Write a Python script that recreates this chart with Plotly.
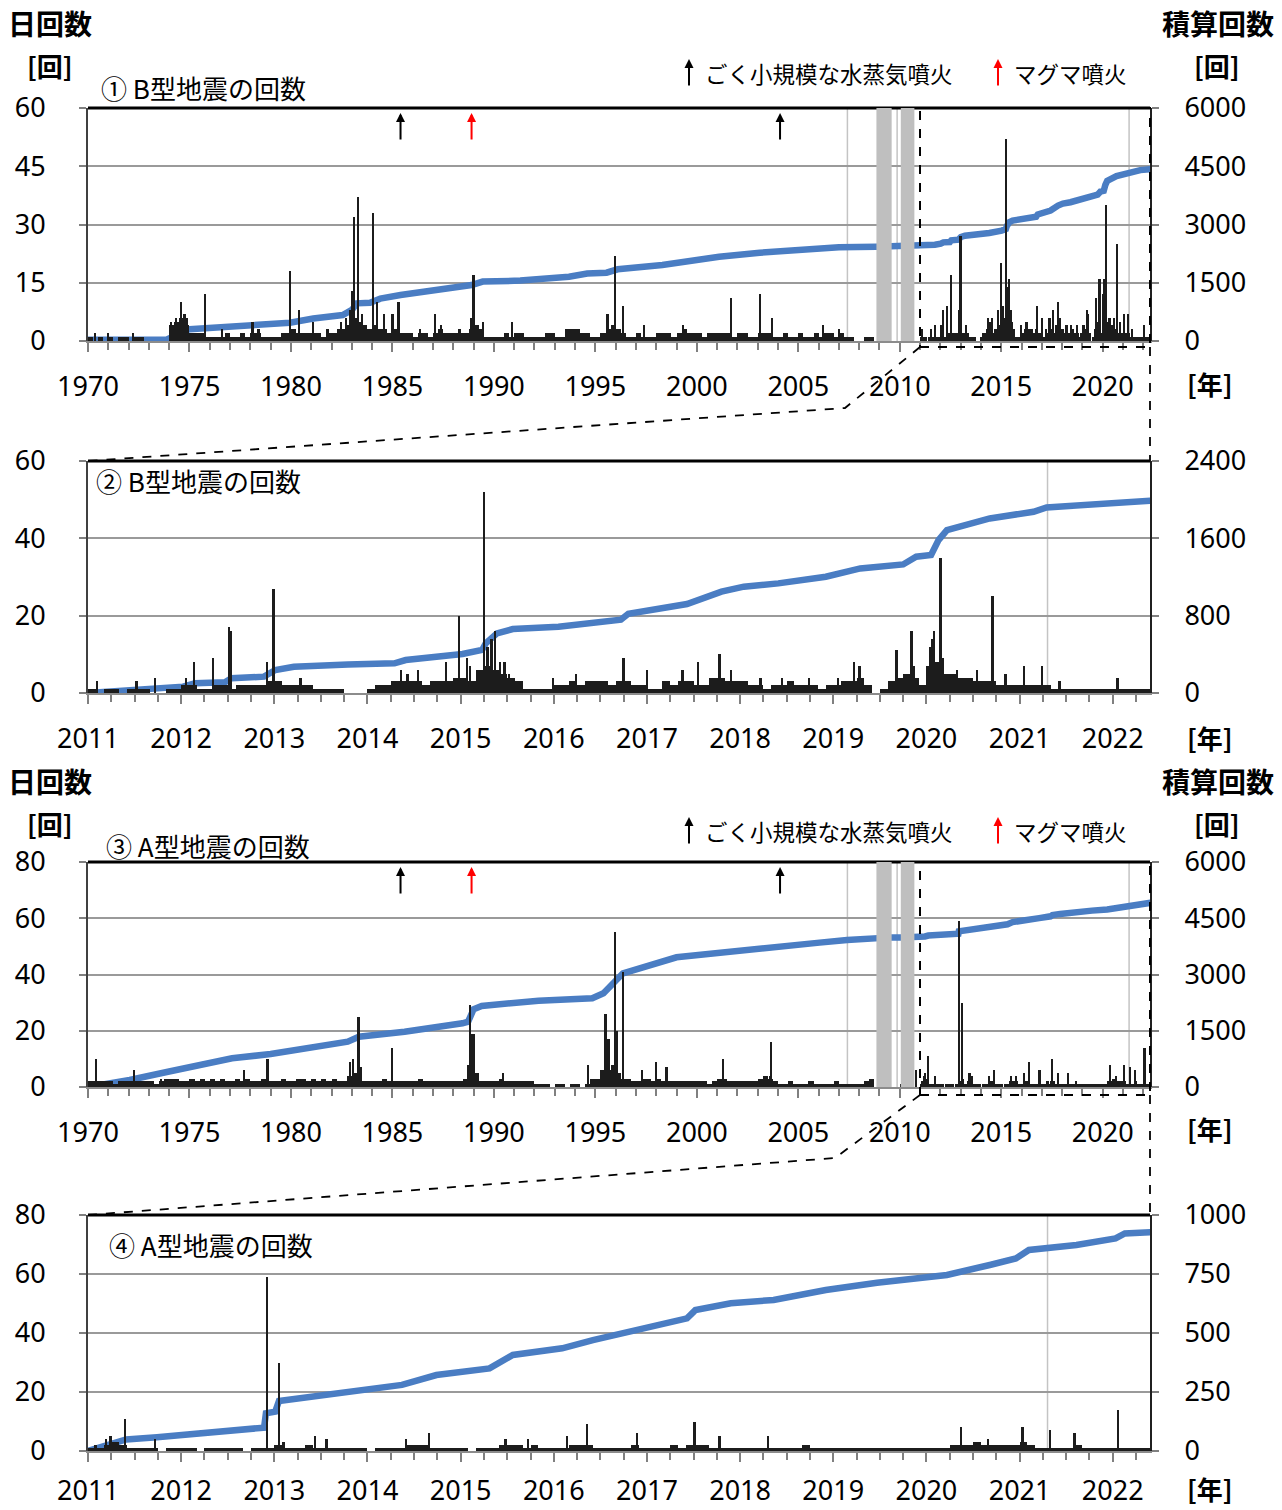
import plotly.graph_objects as go

W, H = 1282, 1510

# ======================= DATA =======================
# ---- B型地震 ----
# background daily level, quarterly, 1970Q1 .. 2010Q4
B_level_quarterly = [
    1, 0, 1, 0,   # 1970
    1, 0, 1, 1,   # 1971
    0, 1, 1, 0,   # 1972
    0, 0, 0, 0,   # 1973
    4, 5, 6, 4,   # 1974
    2, 2, 2, 1,   # 1975
    1, 1, 1, 2,   # 1976
    1, 1, 2, 1,   # 1977
    2, 2, 1, 1,   # 1978
    1, 1, 2, 2,   # 1979
    3, 2, 2, 2,   # 1980
    2, 2, 1, 2,   # 1981
    2, 3, 3, 4,   # 1982
    6, 5, 4, 3,   # 1983
    4, 3, 3, 2,   # 1984
    3, 2, 2, 2,   # 1985
    1, 2, 2, 1,   # 1986
    2, 3, 2, 2,   # 1987
    2, 2, 2, 3,   # 1988
    4, 3, 1, 1,   # 1989
    1, 1, 2, 1,   # 1990
    2, 2, 1, 1,   # 1991
    1, 1, 2, 2,   # 1992
    1, 1, 3, 3,   # 1993
    3, 2, 2, 1,   # 1994
    1, 2, 3, 4,   # 1995
    3, 2, 1, 1,   # 1996
    2, 1, 1, 1,   # 1997
    2, 2, 2, 1,   # 1998
    2, 3, 2, 2,   # 1999
    2, 1, 2, 2,   # 2000
    2, 2, 2, 1,   # 2001
    2, 2, 1, 1,   # 2002
    2, 2, 2, 1,   # 2003
    1, 2, 1, 1,   # 2004
    2, 1, 1, 2,   # 2005
    1, 2, 2, 1,   # 2006
    2, 1, 1, 0,   # 2007
    0, 1, 1, 0,   # 2008
    0, 0, 0, 0,   # 2009
    0, 1, 0, 0,   # 2010
]
# background daily level, monthly, 2011-01 .. 2022-05
B_level_monthly = [
    1, 0, 1, 1, 0, 1, 1, 1, 0, 0, 1, 1,   # 2011
    2, 2, 1, 1, 2, 2, 1, 2, 2, 2, 2, 3,   # 2012
    3, 2, 2, 2, 2, 1, 1, 1, 1, 0, 0, 0,   # 2013
    1, 2, 2, 3, 3, 3, 3, 2, 3, 3, 3, 4,   # 2014
    4, 3, 6, 7, 6, 5, 4, 3, 1, 1, 1, 1,   # 2015
    2, 2, 3, 2, 3, 3, 3, 2, 3, 3, 2, 2,   # 2016
    1, 1, 3, 2, 3, 3, 2, 2, 4, 4, 3, 3,   # 2017
    3, 2, 2, 1, 2, 2, 3, 2, 2, 2, 1, 2,   # 2018
    2, 3, 3, 4, 2, 0, 1, 3, 4, 5, 4, 2,   # 2019
    7, 8, 5, 5, 4, 4, 3, 3, 3, 2, 2, 2,   # 2020
    2, 2, 2, 2, 1, 1, 1, 1, 1, 1, 1, 1,   # 2021
    1, 1, 1, 1, 1,                        # 2022
]
# individual high days
B_peak_year = [1970.35, 1971.0, 1972.2, 1974.1, 1974.35, 1974.6, 1974.75, 1974.85, 1975.75,
               1976.6, 1978.1, 1978.4, 1979.95, 1980.4, 1981.1, 1981.8, 1982.45, 1982.7,
               1982.9, 1983.0, 1983.1, 1983.3, 1983.5, 1984.05, 1984.25, 1984.6, 1985.0,
               1985.3, 1986.35, 1987.1, 1987.4, 1988.3, 1988.9, 1989.0, 1989.45, 1990.9,
               1993.9, 1995.6, 1995.95, 1996.35, 1997.4, 1999.3, 2001.7, 2003.1, 2003.7,
               2006.2, 2007.0,
               2011.10, 2011.52, 2011.72, 2012.05, 2012.14, 2012.34, 2012.51, 2012.53,
               2012.92, 2012.99, 2013.28, 2014.36, 2014.43, 2014.54, 2014.84, 2014.98,
               2015.07, 2015.10, 2015.25, 2015.29, 2015.33, 2015.37, 2015.42, 2015.47,
               2015.52, 2015.99, 2016.24, 2016.75, 2017.0, 2017.38, 2017.55, 2017.78,
               2017.9, 2018.22, 2018.45, 2018.74, 2019.05, 2019.22, 2019.28, 2019.68,
               2019.84, 2019.87, 2020.04, 2020.06, 2020.08, 2020.15, 2020.18, 2020.33,
               2020.54, 2020.71, 2020.85, 2021.05, 2021.24, 2021.43, 2022.05]
B_peak_count = [2, 2, 2, 5, 6, 10, 7, 6, 12,
                3, 5, 3, 18, 8, 5, 3, 5, 6,
                8, 13, 32, 37, 7, 33, 10, 7, 7,
                10, 3, 7, 4, 3, 6, 17, 5, 5,
                3, 7, 22, 9, 4, 4, 11, 12, 6,
                4, 3,
                3, 3, 4, 4, 8, 9, 17, 16,
                8, 27, 4, 6, 5, 6, 8, 20,
                9, 7, 52, 12, 14, 16, 8, 8,
                5, 4, 5, 9, 6, 6, 8, 10,
                6, 4, 4, 4, 4, 8, 7, 11,
                16, 7, 12, 14, 16, 35, 9, 6,
                6, 25, 5, 7, 7, 3, 4]
# cumulative count 1970-2010 (absolute)
B_cum_pre_year = [1970.0, 1973.9, 1974.2, 1974.5, 1975.0, 1977.0, 1979.95, 1981.1, 1982.55,
                  1983.0, 1983.25, 1983.9, 1984.4, 1985.4, 1987.0, 1988.9, 1989.45, 1991.3,
                  1993.7, 1994.6, 1995.55, 1995.9, 1996.1, 1998.3, 1999.0, 2001.1, 2003.1,
                  2004.4, 2007.0, 2008.85, 2009.6, 2010.05, 2010.72, 2011.0]
B_cum_pre = [35, 40, 120, 240, 300, 370, 470, 580, 670,
             800, 970, 985, 1090, 1185, 1295, 1440, 1530, 1555,
             1655, 1740, 1760, 1790, 1846, 1957, 2017, 2170, 2274,
             2318, 2412, 2430, 2432, 2435, 2440, 2440]
# cumulative count since 2011-01-01
B_cum_post_year = [2011.0, 2011.73, 2012.02, 2012.15, 2012.47, 2012.54, 2012.89, 2013.01, 2013.21,
                   2013.79, 2014.29, 2014.41, 2015.02, 2015.23, 2015.27, 2015.39, 2015.56, 2016.05,
                   2016.38, 2016.5, 2016.72, 2016.8, 2017.2, 2017.43, 2017.8, 2018.04, 2018.41,
                   2018.73, 2018.92, 2019.29, 2019.75, 2019.89, 2020.05, 2020.13, 2020.22, 2020.68,
                   2021.15, 2021.29, 2021.85, 2022.41]
B_cum_post = [0, 38, 66, 100, 110, 152, 169, 238, 272,
              296, 307, 341, 403, 445, 513, 617, 662, 686,
              720, 745, 758, 820, 875, 920, 1048, 1100, 1134,
              1186, 1203, 1289, 1330, 1410, 1427, 1582, 1685, 1806,
              1875, 1920, 1961, 1989]

# ---- A型地震 ----
A_level_quarterly = [
    2, 2, 2, 2,   # 1970
    2, 1, 2, 2,   # 1971
    2, 2, 2, 2,   # 1972
    2, 1, 2, 3,   # 1973
    3, 3, 2, 2,   # 1974
    3, 2, 3, 2,   # 1975
    3, 2, 3, 2,   # 1976
    2, 3, 2, 3,   # 1977
    2, 2, 3, 2,   # 1978
    2, 2, 3, 2,   # 1979
    2, 3, 3, 2,   # 1980
    3, 2, 3, 2,   # 1981
    3, 2, 2, 4,   # 1982
    5, 3, 2, 2,   # 1983
    2, 2, 3, 2,   # 1984
    2, 2, 2, 2,   # 1985
    2, 3, 2, 2,   # 1986
    2, 2, 2, 2,   # 1987
    2, 2, 3, 6,   # 1988
    5, 2, 2, 2,   # 1989
    2, 3, 2, 2,   # 1990
    2, 2, 2, 2,   # 1991
    1, 1, 1, 0,   # 1992
    1, 1, 0, 1,   # 1993
    1, 0, 1, 3,   # 1994
    3, 6, 6, 8,   # 1995
    5, 3, 3, 2,   # 1996
    2, 3, 3, 2,   # 1997
    3, 2, 2, 2,   # 1998
    2, 2, 2, 2,   # 1999
    2, 2, 1, 2,   # 2000
    3, 3, 2, 2,   # 2001
    2, 2, 2, 2,   # 2002
    3, 4, 3, 2,   # 2003
    1, 1, 2, 1,   # 2004
    1, 1, 2, 1,   # 2005
    1, 1, 1, 2,   # 2006
    1, 1, 1, 1,   # 2007
    1, 2, 3, 0,   # 2008
    0, 0, 0, 0,   # 2009
    1, 2, 0, 0,   # 2010
]
A_level_monthly = [
    1, 1, 2, 3, 2, 1, 1, 1, 1, 0, 1, 1,   # 2011
    1, 1, 0, 1, 1, 1, 1, 1, 0, 1, 1, 1,   # 2012
    2, 1, 1, 1, 2, 1, 1, 1, 1, 1, 1, 1,   # 2013
    0, 1, 1, 1, 1, 2, 2, 2, 1, 1, 1, 1,   # 2014
    1, 0, 1, 1, 1, 2, 2, 2, 1, 2, 1, 1,   # 2015
    1, 1, 2, 2, 2, 1, 1, 1, 1, 1, 2, 1,   # 2016
    1, 1, 1, 2, 1, 2, 2, 2, 1, 1, 1, 1,   # 2017
    1, 1, 1, 1, 1, 1, 1, 1, 2, 1, 1, 1,   # 2018
    1, 1, 1, 1, 1, 1, 1, 1, 1, 1, 1, 1,   # 2019
    1, 1, 1, 2, 2, 2, 3, 2, 2, 2, 2, 2,   # 2020
    3, 2, 1, 1, 1, 1, 1, 2, 1, 1, 1, 1,   # 2021
    1, 1, 1, 1, 1,                        # 2022
]
A_peak_year = [1970.4, 1972.25, 1973.6, 1974.2, 1977.67, 1978.84, 1982.9, 1983.05, 1983.33,
               1983.45, 1984.97, 1988.75, 1988.83, 1988.95, 1989.0, 1990.43, 1994.62, 1995.5,
               1995.65, 1995.95, 1996.05, 1996.36, 1997.31, 1997.97, 1998.5, 2001.3, 2003.6,
               2003.66, 2008.6, 2010.8,
               2011.08, 2011.19, 2011.24, 2011.40, 2011.72, 2012.92, 2013.05, 2013.1, 2013.44,
               2013.56, 2014.41, 2014.66, 2015.48, 2015.72, 2016.14, 2016.36, 2016.89, 2017.51,
               2017.78, 2018.3, 2020.37, 2020.66, 2021.03, 2021.33, 2021.59, 2022.06]
A_peak_count = [10, 6, 3, 3, 6, 10, 9, 10, 25,
                7, 14, 8, 29, 19, 19, 5, 8, 26,
                17, 55, 20, 41, 6, 9, 7, 10, 4,
                16, 3, 6,
                2, 4, 5, 11, 4, 59, 30, 3, 5,
                4, 4, 6, 4, 4, 5, 9, 6, 10,
                5, 5, 8, 4, 8, 7, 6, 14]
A_cum_pre_year = [1970.0, 1972.05, 1973.94, 1975.26, 1977.1, 1979.0, 1980.9, 1982.8, 1983.35,
                  1985.6, 1988.45, 1988.73, 1989.0, 1989.4, 1992.2, 1994.85, 1995.4, 1995.99,
                  1996.36, 1999.0, 2000.0, 2005.0, 2006.05, 2007.4, 2008.85, 2009.6, 2010.05,
                  2010.72, 2011.0]
A_cum_pre = [0, 187, 408, 560, 765, 880, 1031, 1209, 1342,
             1475, 1698, 1742, 2072, 2160, 2302, 2365, 2499, 2808,
             3032, 3459, 3520, 3800, 3850, 3920, 3990, 3990, 3990,
             3990, 3990]
A_cum_post_year = [2011.0, 2011.16, 2011.24, 2011.41, 2011.74, 2012.15, 2012.56, 2012.89, 2012.91,
                   2013.01, 2013.05, 2013.38, 2013.79, 2014.37, 2014.74, 2015.31, 2015.56, 2016.09,
                   2016.42, 2016.87, 2017.43, 2017.52, 2017.9, 2018.36, 2018.92, 2019.47, 2020.22,
                   2020.68, 2020.96, 2021.1, 2021.61, 2022.03, 2022.13, 2022.41]
A_cum_post = [0, 18, 25, 49, 58, 75, 92, 99, 160,
              167, 212, 230, 251, 280, 322, 350, 407, 435,
              470, 513, 562, 597, 626, 640, 682, 713, 746,
              788, 816, 852, 873, 901, 922, 927]

# data gaps (no observation) and reference lines
gap_start = [2008.85, 2010.05]
gap_end = [2009.6, 2010.72]
ref_lines_full = [2007.42, 2009.87, 2021.3]
ref_lines_zoom = [2021.3]
# eruptions
small_phreatic = [1985.4, 2004.1]
magmatic = [1988.9]

# ======================= LAYOUT HELPERS =======================
def X(px):
    return px / W


def Y(py):
    return 1 - py / H


JP = "Noto Sans CJK JP"
TF = dict(family="Noto Sans, DejaVu Sans, sans-serif", size=27, color="#000")
BAR_C = "#1c1c1c"
LINE_C = "#4a7dc3"
XL, XR = 88, 1150

panels = [
    dict(top=108, bot=341, x0=1970, x1=2022.33, dt=5, mdt=1, ymax=60, ydt=15, rmax=6000, rdt=1500, so=12),
    dict(top=461, bot=693, x0=2011, x1=2022.4, dt=1, mdt=0.25, ymax=60, ydt=20, rmax=2400, rdt=800, so=12),
    dict(top=862, bot=1087, x0=1970, x1=2022.33, dt=5, mdt=1, ymax=80, ydt=20, rmax=6000, rdt=1500, so=12),
    dict(top=1215, bot=1451, x0=2011, x1=2022.4, dt=1, mdt=0.25, ymax=80, ydt=20, rmax=1000, rdt=250, so=6),
]


def ax_name(letter, n):
    return letter if n == 1 else f"{letter}{n}"


def ax_key(letter, n):
    return f"{letter}axis" if n == 1 else f"{letter}axis{n}"


fig = go.Figure()
layout = dict(width=W, height=H, margin=dict(l=0, r=0, t=0, b=0, pad=0, autoexpand=False),
              paper_bgcolor="white", plot_bgcolor="white", showlegend=False,
              barmode="overlay", bargap=0)
shapes = []
annotations = []

q_x = [1970 + 0.25 * i + 0.125 for i in range(len(B_level_quarterly))]
m_x = [2011 + i / 12 + 1 / 24 for i in range(len(B_level_monthly))]

series = {
    "B": dict(q=B_level_quarterly, m=B_level_monthly, py=B_peak_year, pv=B_peak_count,
              cpy=B_cum_pre_year, cp=B_cum_pre, cqy=B_cum_post_year, cq=B_cum_post),
    "A": dict(q=A_level_quarterly, m=A_level_monthly, py=A_peak_year, pv=A_peak_count,
              cpy=A_cum_pre_year, cp=A_cum_pre, cqy=A_cum_post_year, cq=A_cum_post),
}

for k, p in enumerate(panels, start=1):
    full = k in (1, 3)
    s = series["B"] if k <= 2 else series["A"]
    xa = ax_name("x", k)
    nr, nl = 2 * k - 1, 2 * k          # base = right (cumulative), overlay = left (daily)
    yr, yl = ax_name("y", nr), ax_name("y", nl)
    dom_y = [Y(p["bot"]), Y(p["top"])]

    layout[ax_key("x", k)] = dict(
        domain=[X(XL), X(XR)], anchor=yr, range=[p["x0"], p["x1"]],
        tick0=p["x0"], dtick=p["dt"], tickformat="d",
        ticks="outside", ticklen=9, tickwidth=1.5, tickcolor="#808080",
        minor=dict(dtick=p["mdt"], tick0=p["x0"], ticks="outside", ticklen=7,
                   tickwidth=1.5, tickcolor="#808080", showgrid=False),
        showline=True, linecolor="#8c8c8c", linewidth=2, automargin=False,
        showgrid=False, zeroline=False, tickfont=TF, ticklabelstandoff=p["so"],
    )
    layout[ax_key("y", nr)] = dict(
        domain=dom_y, anchor=xa, side="right", range=[0, p["rmax"]],
        dtick=p["rdt"], tickformat="d",
        ticks="outside", ticklen=7, tickwidth=1.5, tickcolor="#808080",
        showline=True, linecolor="#202020", linewidth=2, automargin=False,
        showgrid=False, zeroline=False, tickfont=TF, ticklabelstandoff=20,
    )
    layout[ax_key("y", nl)] = dict(
        domain=dom_y, anchor=xa, overlaying=yr, side="left", range=[0, p["ymax"]],
        dtick=p["ydt"], tickformat="d",
        ticks="outside", ticklen=7, tickwidth=1.5, tickcolor="#808080",
        showline=True, linecolor="#404040", linewidth=2, automargin=False,
        showgrid=True, gridcolor="#9a9a9a", gridwidth=2, zeroline=False,
        tickfont=TF, ticklabelstandoff=28,
    )

    # cumulative line (right axis)
    if full:
        cx = s["cpy"] + s["cqy"][1:]
        cy = s["cp"] + [v + s["cp"][-1] for v in s["cq"][1:]]
    else:
        cx, cy = s["cqy"], s["cq"]
    fig.add_trace(go.Scatter(x=cx, y=cy, mode="lines", xaxis=xa, yaxis=yr,
                             line=dict(color=LINE_C, width=6.5), hoverinfo="skip"))

    # daily counts (bars on left axis, drawn above the line)
    if full:
        fig.add_trace(go.Bar(x=q_x, y=s["q"], width=[0.25] * len(q_x), xaxis=xa, yaxis=yl,
                             marker=dict(color=BAR_C, line=dict(width=0))))
        fig.add_trace(go.Bar(x=m_x, y=s["m"], width=[1 / 12] * len(m_x), xaxis=xa, yaxis=yl,
                             marker=dict(color=BAR_C, line=dict(width=0))))
        fig.add_trace(go.Bar(x=s["py"], y=s["pv"], width=[0.11] * len(s["py"]), xaxis=xa, yaxis=yl,
                             marker=dict(color=BAR_C, line=dict(width=0))))
    else:
        fig.add_trace(go.Bar(x=m_x, y=s["m"], width=[1 / 12] * len(m_x), xaxis=xa, yaxis=yl,
                             marker=dict(color=BAR_C, line=dict(width=0))))
        px_, pv_ = zip(*[(a, b) for a, b in zip(s["py"], s["pv"]) if a >= 2011])
        fig.add_trace(go.Bar(x=list(px_), y=list(pv_), width=[0.025] * len(px_), xaxis=xa, yaxis=yl,
                             marker=dict(color=BAR_C, line=dict(width=0))))

    # top border
    shapes.append(dict(type="line", xref=f"{xa} domain", yref=f"{yl} domain",
                       x0=0, x1=1, y0=1, y1=1, line=dict(color="#000", width=3)))
    # reference lines
    for r in (ref_lines_full if full else ref_lines_zoom):
        shapes.append(dict(type="line", xref=xa, yref=f"{yl} domain", x0=r, x1=r, y0=0, y1=1,
                           line=dict(color="#c4c4c4", width=1.5), layer="below"))
    if full:
        for g0, g1 in zip(gap_start, gap_end):
            shapes.append(dict(type="rect", xref=xa, yref=f"{yl} domain", x0=g0, x1=g1, y0=0, y1=1,
                               fillcolor="#bfbfbf", line=dict(width=0), layer="above"))
        # eruption arrows
        tip = p["ymax"] * (1 - 5 / (p["bot"] - p["top"]))
        for e in small_phreatic:
            annotations.append(dict(x=e, y=tip, xref=xa, yref=yl, text="", showarrow=True,
                                    ax=0, ay=28, arrowhead=2, arrowsize=0.9, arrowwidth=2,
                                    arrowcolor="#000"))
        for e in magmatic:
            annotations.append(dict(x=e, y=tip, xref=xa, yref=yl, text="", showarrow=True,
                                    ax=0, ay=28, arrowhead=2, arrowsize=0.9, arrowwidth=2,
                                    arrowcolor="#ff0000"))

# dashed zoom boxes and connectors
for (top, bot, kink_x, kink_y, next_top) in [(108, 347, 845, 408, 461), (862, 1095, 835, 1158, 1215)]:
    shapes.append(dict(type="rect", xref="paper", yref="paper", x0=X(920), x1=X(1150),
                       y0=Y(bot), y1=Y(top), line=dict(color="#000", width=2, dash="dash")))
    shapes.append(dict(type="path", xref="paper", yref="paper",
                       path=f"M {X(920)} {Y(bot)} L {X(kink_x)} {Y(kink_y)} L {X(88)} {Y(next_top)}",
                       line=dict(color="#000", width=1.8, dash="dash")))
    shapes.append(dict(type="line", xref="paper", yref="paper", x0=X(1150), x1=X(1150),
                       y0=Y(bot), y1=Y(next_top), line=dict(color="#000", width=1.8, dash="dash")))


def txt(t, x, y, size, bold=False, xanchor="left", color="#000"):
    annotations.append(dict(text=f"<b>{t}</b>" if bold else t, x=X(x), y=Y(y),
                            xref="paper", yref="paper", xanchor=xanchor, yanchor="middle",
                            showarrow=False, borderpad=0,
                            font=dict(family=JP, size=size, color=color)))


def legend_arrow(x, y_tip, color):
    annotations.append(dict(x=X(x), y=Y(y_tip), xref="paper", yref="paper", text="",
                            showarrow=True, ax=0, ay=28, arrowhead=2, arrowsize=0.9,
                            arrowwidth=2, arrowcolor=color))


for dy, title, tx in [(0, "① B型地震の回数", 100), (758, "③ A型地震の回数", 105)]:
    txt("日回数", 7, 23 + dy, 28, bold=True)
    txt("[回]", 50, 65 + dy, 26, bold=True, xanchor="center")
    txt(title, tx, 87 + dy, 26)
    txt("ごく小規模な水蒸気噴火", 704, 73 + dy, 22.5)
    txt("マグマ噴火", 1013, 73 + dy, 22.5)
    legend_arrow(689, 59 + dy, "#000")
    legend_arrow(998, 59 + dy, "#ff0000")
    txt("積算回数", 1218, 23 + dy, 28, bold=True, xanchor="center")
    txt("[回]", 1217, 65 + dy, 26, bold=True, xanchor="center")

txt("② B型地震の回数", 95, 480, 26)
txt("④ A型地震の回数", 108, 1244, 26)
for yy in (383, 737, 1128, 1488):
    txt("[年]", 1210, yy, 26, bold=True, xanchor="center")

layout["shapes"] = shapes
layout["annotations"] = annotations
fig.update_layout(**layout)

fig.write_html("out.html", config={"displayModeBar": False},
               post_script="document.body.style.margin='0';")
